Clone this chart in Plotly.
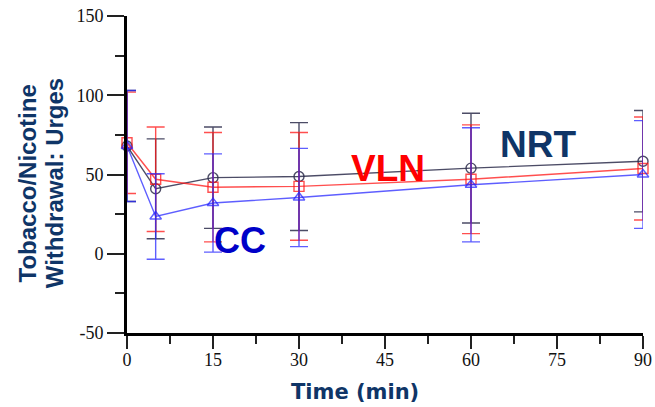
import plotly.graph_objects as go

time_min = [0, 5, 15, 30, 60, 90]

nrt_mean = [68, 41, 48, 48.7, 54, 58.4]
nrt_err = [35, 31.5, 32, 34, 34.6, 32]

vln_mean = [70, 47, 42, 42.5, 47, 53.8]
vln_err = [32, 33, 34.5, 34, 34.3, 32.5]

cc_mean = [68, 23.5, 32, 35.5, 43.5, 50]
cc_err = [35, 27, 31, 31, 36, 34]

x_ticks = [0, 15, 30, 45, 60, 75, 90]
y_ticks = [-50, 0, 50, 100, 150]
y_tick_text = ["-50", "0", "50", "100", "150"]

series = [
    ("NRT", nrt_mean, nrt_err, "rgba(45,45,75,0.85)", "circle-open"),
    ("VLN", vln_mean, vln_err, "rgba(255,20,20,0.75)", "square-open"),
    ("CC", cc_mean, cc_err, "rgba(40,40,255,0.75)", "triangle-up-open"),
]

fig = go.Figure()
for name, m, e, col, sym in series:
    fig.add_trace(go.Scatter(
        x=time_min, y=m, name=name, mode="lines+markers",
        line=dict(color=col, width=1.4),
        marker=dict(symbol=sym, size=10, color=col, line=dict(width=1.4, color=col)),
        error_y=dict(type="data", array=e, visible=True, color=col, thickness=1.4, width=9),
        cliponaxis=False, showlegend=False,
    ))

navy = "#0f3567"
fig.add_annotation(x=71.7, y=69, xref="x", yref="y", text="<b>NRT</b>", showarrow=False,
                   font=dict(family="Liberation Sans", size=37, color=navy))
fig.add_annotation(x=45.5, y=53.5, xref="x", yref="y", text="<b>VLN</b>", showarrow=False,
                   font=dict(family="Liberation Sans", size=37, color="#ff0000"))
fig.add_annotation(x=19.7, y=8.5, xref="x", yref="y", text="<b>CC</b>", showarrow=False,
                   font=dict(family="Liberation Sans", size=36, color="#0000c8"))

fig.add_annotation(x=-0.193, y=0.473, xref="paper", yref="paper",
                   text="<b>Tobacco/Nicotine</b>", showarrow=False,
                   textangle=-90, xanchor="center", yanchor="middle",
                   font=dict(family="Liberation Sans", size=24, color=navy))
fig.add_annotation(x=-0.141, y=0.473, xref="paper", yref="paper",
                   text="<b>Withdrawal: Urges</b>", showarrow=False,
                   textangle=-90, xanchor="center", yanchor="middle",
                   font=dict(family="Liberation Sans", size=24, color=navy))
fig.add_annotation(x=0.442, y=-0.185, xref="paper", yref="paper",
                   text="<b>Time (min)</b>", showarrow=False,
                   xanchor="center", yanchor="middle",
                   font=dict(family="DejaVu Sans", size=21, color=navy))

fig.update_layout(
    width=655, height=407,
    margin=dict(l=127, r=12, t=16, b=74, autoexpand=False),
    paper_bgcolor="white", plot_bgcolor="white",
    xaxis=dict(range=[0, 90], tickvals=x_ticks, showgrid=False, zeroline=False, automargin=False,
               showline=True, linecolor="black", linewidth=3,
               ticks="outside", ticklen=13, tickwidth=1.5, tickcolor="#222",
               ticklabelstandoff=-5,
               minor=dict(dtick=7.5, tick0=0, ticks="outside", ticklen=8, tickwidth=1.5, tickcolor="#222"),
               tickfont=dict(family="Liberation Serif", size=18, color="#111")),
    yaxis=dict(range=[-50, 150], tickvals=y_ticks, ticktext=y_tick_text, showgrid=False,
               zeroline=False, automargin=False,
               showline=True, linecolor="black", linewidth=3,
               ticks="outside", ticklen=17, tickwidth=1.5, tickcolor="#222",
               minor=dict(dtick=25, tick0=0, ticks="outside", ticklen=9, tickwidth=1.5, tickcolor="#222"),
               tickfont=dict(family="Liberation Serif", size=18, color="#111")),
)

fig.write_html("out.html", config={"displayModeBar": False},
               post_script="document.body.style.margin='0';document.body.style.overflow='hidden';")
